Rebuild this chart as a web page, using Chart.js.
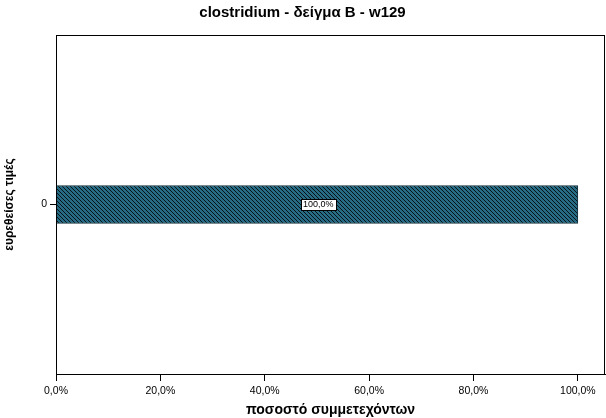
<!DOCTYPE html>
<html>
<head>
<meta charset="utf-8">
<script src="https://cdn.jsdelivr.net/npm/chart.js@4/dist/chart.umd.min.js"></script>
<style>
  html, body { margin: 0; padding: 0; background: #fff; }
  #wrap { width: 606px; height: 418px; }
</style>
</head>
<body>
<div id="wrap"><canvas id="grafico"></canvas></div>
<script>
// Dados =====================================================================

const categorias = ["0"];
const percentagens = [100];
const etiquetas = ["100,0%"];
const ticksX = [0, 20, 40, 60, 80, 100];

// Padrão tracejado da barra ==================================================

function criarPadrao() {
  const c = document.createElement("canvas");
  c.width = 4;
  c.height = 4;
  const ctx = c.getContext("2d");
  ctx.fillStyle = "#276b85";
  ctx.fillRect(0, 0, 4, 4);
  ctx.strokeStyle = "#06141a";
  ctx.lineWidth = 1;
  ctx.beginPath();
  ctx.moveTo(-1, -1); ctx.lineTo(5, 5);
  ctx.moveTo(-1, 3); ctx.lineTo(1, 5);
  ctx.moveTo(3, -1); ctx.lineTo(5, 1);
  ctx.stroke();
  return ctx.createPattern(c, "repeat");
}

const fonte = "'Liberation Sans', Arial, sans-serif";

// Moldura e etiqueta ==========================================================

const moldura = {
  id: "moldura",
  afterDraw(chart) {
    const { ctx, chartArea: a } = chart;
    ctx.save();
    ctx.strokeStyle = "#000";
    ctx.lineWidth = 1;
    ctx.strokeRect(a.left + 0.5, a.top + 0.5, a.right - a.left - 1, a.bottom - a.top);
    ctx.restore();
  },
};

const etiquetaBarra = {
  id: "etiquetaBarra",
  afterDatasetsDraw(chart) {
    const { ctx } = chart;
    const meta = chart.getDatasetMeta(0);
    ctx.save();
    ctx.font = "9px " + fonte;
    ctx.textAlign = "center";
    ctx.textBaseline = "middle";
    meta.data.forEach((bar, i) => {
      const x = (bar.base + bar.x) / 2 + 1;
      const y = bar.y;
      const txt = etiquetas[i];
      const w = Math.round(ctx.measureText(txt).width + 4);
      const h = 11;
      const bx = Math.round(x - w / 2) + 0.5;
      const by = Math.round(y - h / 2) + 0.5;
      ctx.fillStyle = "#fff";
      ctx.fillRect(bx, by, w, h);
      ctx.strokeStyle = "#000";
      ctx.lineWidth = 1;
      ctx.strokeRect(bx, by, w, h);
      ctx.fillStyle = "#000";
      ctx.fillText(txt, x, y + 0.5);
    });
    ctx.restore();
  },
};

// Gráfico =====================================================================

const data = {
  labels: categorias,
  datasets: [
    {
      label: "ποσοστό συμμετεχόντων",
      data: percentagens,
      backgroundColor: criarPadrao(),
      borderColor: "#15303a",
      borderWidth: 1,
      barThickness: 38,
    },
  ],
};

const config = {
  type: "bar",
  data: data,
  options: {
    indexAxis: "y",
    responsive: true,
    maintainAspectRatio: false,
    animation: false,
    layout: { padding: { left: 0, right: 1, top: 0, bottom: 0 } },
    plugins: {
      legend: { display: false },
      tooltip: { enabled: false },
      title: {
        display: true,
        text: "clostridium - δείγμα Β - w129",
        color: "#000",
        font: { family: fonte, size: 15, weight: "bold" },
        padding: { top: 4, bottom: 13 },
      },
    },
    scales: {
      x: {
        type: "linear",
        min: 0,
        max: 105.2,
        afterBuildTicks(scale) {
          scale.ticks = ticksX.map((v) => ({ value: v }));
        },
        afterFit(scale) {
          scale.height = 44;
        },
        grid: {
          drawOnChartArea: false,
          color: "#000",
          tickLength: 7,
        },
        border: { color: "#000" },
        ticks: {
          color: "#000",
          padding: 4,
          font: { family: fonte, size: 10.5 },
          callback: (v) => v.toFixed(1).replace(".", ",") + "%",
        },
        title: {
          display: true,
          text: "ποσοστό συμμετεχόντων",
          color: "#000",
          font: { family: fonte, size: 14, weight: "bold" },
          padding: { top: 0, bottom: -1 },
        },
      },
      y: {
        type: "category",
        afterFit(scale) {
          scale.width = 56;
        },
        grid: {
          drawOnChartArea: false,
          offset: false,
          color: "#000",
          tickLength: 6,
        },
        border: { color: "#000" },
        ticks: {
          color: "#000",
          padding: 3,
          font: { family: fonte, size: 10.5 },
        },
        title: {
          display: true,
          text: "ευρεθείσες τιμές",
          color: "#000",
          font: { family: fonte, size: 12, weight: "bold" },
          padding: { top: 2, bottom: 0 },
        },
      },
    },
  },
  plugins: [moldura, etiquetaBarra],
};

const grafico = new Chart(document.getElementById("grafico"), config);
</script>
</body>
</html>
